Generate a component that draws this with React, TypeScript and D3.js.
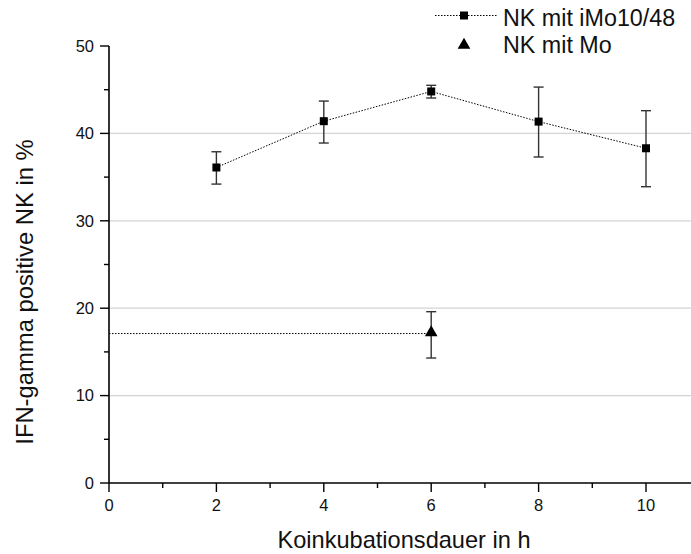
import React from "react";
import * as d3 from "d3";

const W = 691;
const H = 554;

const iMoX = [2, 4, 6, 8, 10];
const iMoY = [36.1, 41.4, 44.8, 41.35, 38.3];
const iMoErrLow = [34.2, 38.9, 44.05, 37.3, 33.9];
const iMoErrHigh = [37.9, 43.7, 45.5, 45.3, 42.6];

const moX = [6];
const moY = [17.1];
const moErrLow = [14.3];
const moErrHigh = [19.6];
const moLineX = [0, 6];

const xTicks = [0, 2, 4, 6, 8, 10];
const xMinor = [1, 3, 5, 7, 9];
const yTicks = [0, 10, 20, 30, 40, 50];
const yMinor = [5, 15, 25, 35, 45];
const gridY = [10, 20, 30, 40];

const FONT = "'Liberation Sans', Arial, Helvetica, sans-serif";

export default function App() {
  const x = d3.scaleLinear().domain([0, 10]).range([109, 646]);
  const y = d3.scaleLinear().domain([0, 50]).range([483, 46]);
  const line = d3
    .line<[number, number]>()
    .x((d) => x(d[0]))
    .y((d) => y(d[1]));
  const iMoPts: [number, number][] = iMoX.map((v, i) => [v, iMoY[i]]);
  const moPts: [number, number][] = moLineX.map((v) => [v, moY[0]]);
  const sq = 8;
  const tri = d3.symbol().type(d3.symbolTriangle).size(70)();
  const xEnd = W + 2;

  return (
    <svg
      width={W}
      height={H}
      style={{ position: "absolute", left: 0, top: 0, background: "#fff" }}
      fontFamily={FONT}
    >
      <rect width={W} height={H} fill="#fff" />
      {gridY.map((v) => (
        <line key={"g" + v} x1={x(0)} x2={xEnd} y1={y(v)} y2={y(v)} stroke="#d4d4d4" strokeWidth={1.2} />
      ))}
      <path d={line(iMoPts) || ""} fill="none" stroke="#000" strokeWidth={1} strokeDasharray="1.5,1.5" />
      <path d={line(moPts) || ""} fill="none" stroke="#000" strokeWidth={1} strokeDasharray="1.5,1.5" />
      {iMoX.map((v, i) => (
        <g key={"e" + i} stroke="#333" strokeWidth={1.4}>
          <line x1={x(v)} x2={x(v)} y1={y(iMoErrLow[i])} y2={y(iMoErrHigh[i])} />
          <line x1={x(v) - 5} x2={x(v) + 5} y1={y(iMoErrLow[i])} y2={y(iMoErrLow[i])} />
          <line x1={x(v) - 5} x2={x(v) + 5} y1={y(iMoErrHigh[i])} y2={y(iMoErrHigh[i])} />
        </g>
      ))}
      {moX.map((v, i) => (
        <g key={"me" + i} stroke="#333" strokeWidth={1.4}>
          <line x1={x(v)} x2={x(v)} y1={y(moErrLow[i])} y2={y(moErrHigh[i])} />
          <line x1={x(v) - 5} x2={x(v) + 5} y1={y(moErrLow[i])} y2={y(moErrLow[i])} />
          <line x1={x(v) - 5} x2={x(v) + 5} y1={y(moErrHigh[i])} y2={y(moErrHigh[i])} />
        </g>
      ))}
      {iMoPts.map((p, i) => (
        <rect key={"m" + i} x={x(p[0]) - sq / 2} y={y(p[1]) - sq / 2} width={sq} height={sq} fill="#000" />
      ))}
      {moX.map((v, i) => (
        <path key={"t" + i} d={tri || ""} transform={`translate(${x(v)},${y(moY[i]) - 1})`} fill="#000" />
      ))}
      <line x1={x(0)} x2={x(0)} y1={y(50)} y2={y(0)} stroke="#000" strokeWidth={1.6} />
      <line x1={x(0)} x2={xEnd} y1={y(0)} y2={y(0)} stroke="#000" strokeWidth={1.6} />
      {yTicks.map((v) => (
        <g key={"yt" + v}>
          <line x1={x(0) - 9} x2={x(0)} y1={y(v)} y2={y(v)} stroke="#000" strokeWidth={1.4} />
          <text x={94} y={y(v)} dy="0.35em" textAnchor="end" fontSize={16.5} fill="#111">
            {v}
          </text>
        </g>
      ))}
      {yMinor.map((v) => (
        <line key={"ym" + v} x1={x(0) - 5} x2={x(0)} y1={y(v)} y2={y(v)} stroke="#000" strokeWidth={1.4} />
      ))}
      {xTicks.map((v) => (
        <g key={"xt" + v}>
          <line x1={x(v)} x2={x(v)} y1={y(0)} y2={y(0) + 9} stroke="#000" strokeWidth={1.4} />
          <text x={x(v)} y={511} textAnchor="middle" fontSize={16.5} fill="#111">
            {v}
          </text>
        </g>
      ))}
      {xMinor.map((v) => (
        <line key={"xm" + v} x1={x(v)} x2={x(v)} y1={y(0)} y2={y(0) + 5} stroke="#000" strokeWidth={1.4} />
      ))}
      <text x={404} y={548} textAnchor="middle" fontSize={23.6} fill="#111">
        Koinkubationsdauer in h
      </text>
      <text transform="translate(33,292) rotate(-90)" textAnchor="middle" fontSize={23.8} fill="#111">
        IFN-gamma positive NK in %
      </text>
      <line x1={435} x2={497} y1={15.5} y2={15.5} stroke="#000" strokeWidth={1} strokeDasharray="1.5,1.5" />
      <rect x={464 - sq / 2} y={15.5 - sq / 2} width={sq} height={sq} fill="#000" />
      <text x={503} y={26} fontSize={23.3} fill="#111">
        NK mit iMo10/48
      </text>
      <path d={tri || ""} transform="translate(464,45)" fill="#000" />
      <text x={503} y={53} fontSize={23.3} fill="#111">
        NK mit Mo
      </text>
    </svg>
  );
}
